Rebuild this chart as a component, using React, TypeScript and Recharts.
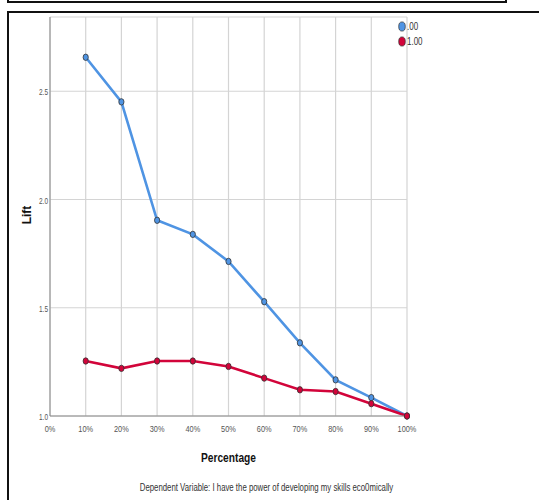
import { LineChart, Line, XAxis, YAxis, CartesianGrid } from "recharts";

const percentages = [10, 20, 30, 40, 50, 60, 70, 80, 90, 100];
const liftZero = [2.657, 2.451, 1.904, 1.839, 1.714, 1.528, 1.338, 1.167, 1.085, 1.0];
const liftOne = [1.254, 1.22, 1.254, 1.254, 1.229, 1.175, 1.121, 1.113, 1.057, 1.0];
const xTicks = [0, 10, 20, 30, 40, 50, 60, 70, 80, 90, 100];
const yTicks = [1.0, 1.5, 2.0, 2.5];

const series = [
  { key: "zero", name: ".00", color: "#4f94e3" },
  { key: "one", name: "1.00", color: "#d2043a" },
];

const data = percentages.map((p, i) => ({ pct: p, zero: liftZero[i], one: liftOne[i] }));

const FONT = "'Liberation Sans', Arial, sans-serif";

function Dot(props: any) {
  const { cx, cy, fill } = props;
  if (cx == null || cy == null) return null;
  return <ellipse cx={cx} cy={cy} rx={2.6} ry={3.2} fill={fill} stroke="#333" strokeWidth={0.8} />;
}

// narrow tick text, like the condensed font SPSS uses
function XTick(props: any) {
  const { x, y, payload } = props;
  return (
    <g transform={`translate(${x},${y + 8}) scale(0.82,1)`}>
      <text textAnchor="middle" fontSize={9} fill="#555" fontFamily={FONT}>
        {payload.value}%
      </text>
    </g>
  );
}

function YTick(props: any) {
  const { x, y, payload } = props;
  return (
    <g transform={`translate(${x + 6},${y + 4}) scale(0.72,1)`}>
      <text textAnchor="end" fontSize={9} fill="#555" fontFamily={FONT}>
        {payload.value.toFixed(1)}
      </text>
    </g>
  );
}

function XTitle(props: any) {
  const { viewBox } = props;
  const cx = viewBox.x + viewBox.width / 2;
  return (
    <text x={cx} y={462} textAnchor="middle" fontSize={13} fontWeight="bold" fill="#111" fontFamily={FONT} textLength={55} lengthAdjust="spacingAndGlyphs">
      Percentage
    </text>
  );
}

function YTitle() {
  return (
    <text x={0} y={0} transform="translate(31,215) rotate(-90)" textAnchor="middle" fontSize={12} fontWeight="bold" fill="#111" fontFamily={FONT}>
      Lift
    </text>
  );
}

export default function App() {
  return (
    <div style={{ position: "fixed", left: 0, top: 0, width: 539, height: 500, background: "#fff", overflow: "hidden" }}>
      <div style={{ position: "absolute", left: 0, top: 0 }}>
        <LineChart width={539} height={500} data={data} margin={{ top: 17, right: 132, bottom: 64, left: 10 }}>
          <CartesianGrid stroke="#d4d4d4" strokeWidth={1.2} />
          <XAxis
            dataKey="pct"
            type="number"
            domain={[0, 100]}
            ticks={xTicks}
            stroke="#8a8a8a"
            tickLine={false}
            tick={<XTick />}
            height={20}
            label={<XTitle />}
          />
          <YAxis
            type="number"
            domain={[1, 2.843]}
            ticks={yTicks}
            stroke="#8a8a8a"
            tickLine={false}
            tick={<YTick />}
            width={40}
            label={<YTitle />}
          />
          {series.map((s) => (
            <Line
              key={s.key}
              dataKey={s.key}
              name={s.name}
              stroke={s.color}
              strokeWidth={2.6}
              dot={<Dot fill={s.color} />}
              activeDot={false}
              isAnimationActive={false}
            />
          ))}
        </LineChart>
      </div>
      <div style={{ position: "absolute", left: 398, top: 19, fontFamily: FONT, fontSize: 10, color: "#333", lineHeight: "15px" }}>
        {series.map((s) => (
          <div key={s.key} style={{ display: "flex", alignItems: "center" }}>
            <svg width={8} height={11} style={{ marginRight: 1 }}>
              <ellipse cx={4} cy={5.5} rx={3.3} ry={4.6} fill={s.color} stroke="#333" strokeWidth={0.7} />
            </svg>
            <span style={{ display: "inline-block", transform: "scaleX(0.8)", transformOrigin: "left" }}>{s.name}</span>
          </div>
        ))}
      </div>
      <div style={{ position: "absolute", left: -3, width: 539, top: 482, textAlign: "center", fontFamily: FONT, fontSize: 10, color: "#333", transform: "scaleX(0.78)" }}>
        Dependent Variable: I have the power of developing my skills eco0mically
      </div>
      {/* frame of the box above and of the chart's own box */}
      <div style={{ position: "absolute", left: 7, top: 1, width: 500, height: 2, background: "#111", zIndex: 3 }} />
      <div style={{ position: "absolute", left: 7, top: 0, width: 2, height: 3, background: "#111", zIndex: 3 }} />
      <div style={{ position: "absolute", left: 505, top: 0, width: 2, height: 3, background: "#111", zIndex: 3 }} />
      <div style={{ position: "absolute", left: 7, top: 11, width: 532, height: 2, background: "#111", zIndex: 3 }} />
      <div style={{ position: "absolute", left: 7, top: 11, width: 2, height: 489, background: "#111", zIndex: 3 }} />
    </div>
  );
}
